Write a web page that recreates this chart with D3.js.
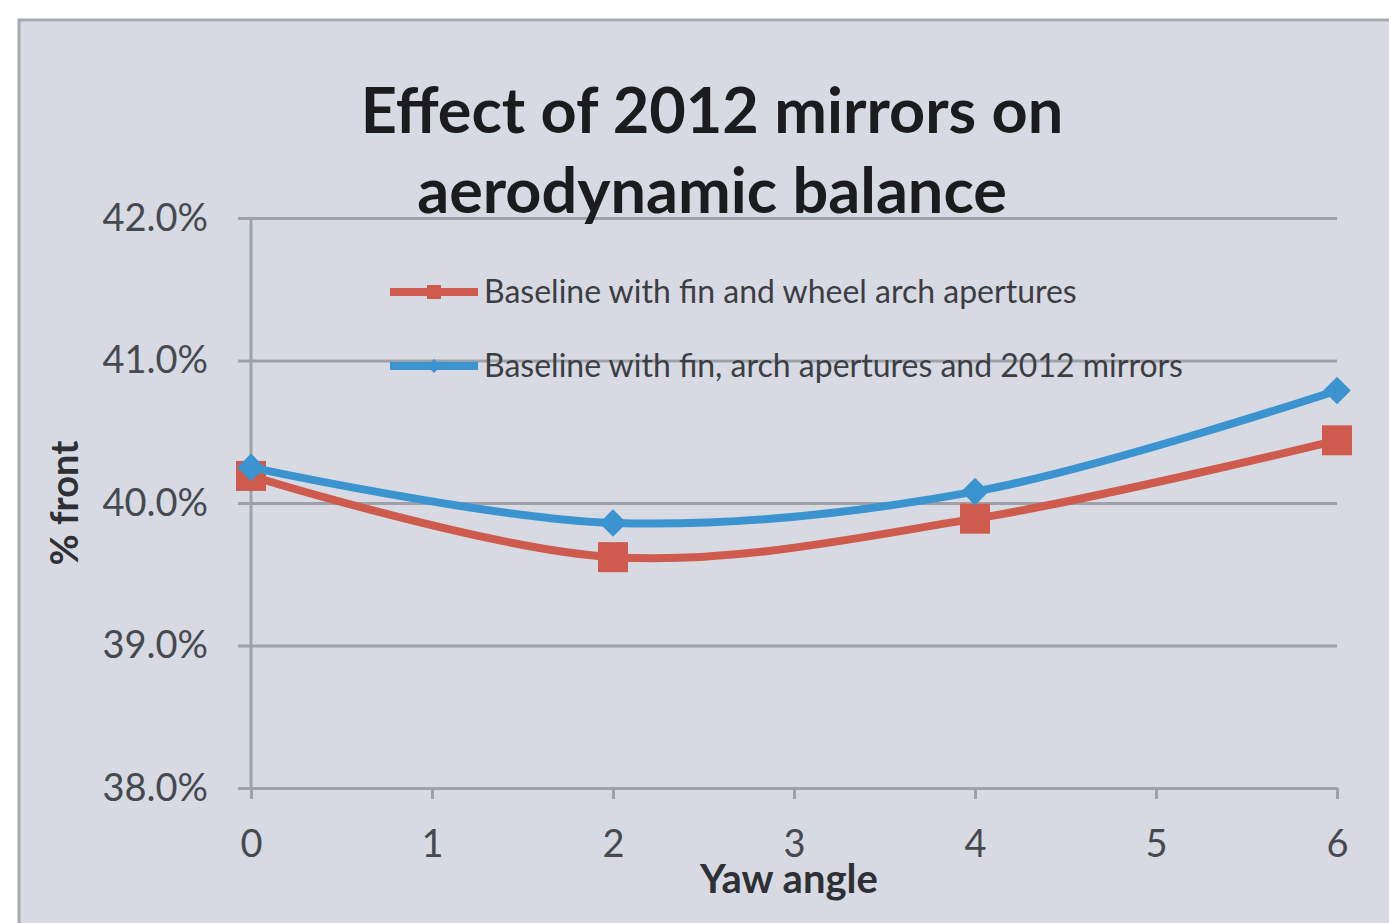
<!DOCTYPE html>
<html>
<head>
<meta charset="utf-8">
<script src="https://cdn.jsdelivr.net/npm/d3@7"></script>
<style>
  html, body { margin: 0; padding: 0; background: #ffffff; }
  svg { display: block; }
</style>
</head>
<body>
<svg id="chart" width="1389" height="923"></svg>
<script>
// Yaw angles measured, and % of downforce on the front axle for each configuration
const yawAngles = [0, 2, 4, 6];
const baselineFront = [40.19, 39.62, 39.89, 40.44];
const mirrorsFront = [40.25, 39.86, 40.08, 40.79];

const xTicks = [0, 1, 2, 3, 4, 5, 6];
const yTicks = [38, 39, 40, 41, 42];

const titleLines = ["Effect of 2012 mirrors on", "aerodynamic balance"];
const seriesNames = [
  "Baseline with fin and wheel arch apertures",
  "Baseline with fin, arch apertures and 2012 mirrors"
];

const W = 1389, H = 923;
const plot = { left: 251, right: 1337, top: 218, bottom: 788 };
const font = "Lato, 'Open Sans', sans-serif";

const svg = d3.select("#chart");

// chart area panel
svg.append("rect")
  .attr("x", 19).attr("y", 20)
  .attr("width", W + 20).attr("height", H + 20)
  .attr("fill", "#d7dae2")
  .attr("stroke", "#a7aaaf")
  .attr("stroke-width", 3);

const x = d3.scaleLinear().domain([0, 6]).range([plot.left, plot.right]);
const y = d3.scaleLinear().domain([38, 42]).range([plot.bottom, plot.top]);

// horizontal gridlines + y axis
const yAxis = d3.axisLeft(y)
  .tickValues(yTicks)
  .tickSize(-(plot.right - plot.left))
  .tickSizeOuter(0)
  .tickPadding(43)
  .tickFormat(d => d3.format(".1f")(d) + "%");

const gy = svg.append("g")
  .attr("transform", `translate(${plot.left},0)`)
  .call(yAxis);
gy.select(".domain").remove();
gy.selectAll(".tick line")
  .attr("x1", -13)
  .attr("stroke", "#9ea1a7")
  .attr("stroke-width", 3);
gy.selectAll(".tick text")
  .attr("font-family", font)
  .attr("font-size", 38)
  .attr("fill", "#464950");

// vertical axis line
svg.append("line")
  .attr("x1", plot.left).attr("x2", plot.left)
  .attr("y1", plot.top).attr("y2", plot.bottom)
  .attr("stroke", "#9ea1a7").attr("stroke-width", 3);

// x axis
const xAxis = d3.axisBottom(x)
  .tickValues(xTicks)
  .tickSize(11)
  .tickSizeOuter(0)
  .tickPadding(31)
  .tickFormat(d3.format("d"));

const gx = svg.append("g")
  .attr("transform", `translate(0,${plot.bottom})`)
  .call(xAxis);
gx.select(".domain").attr("stroke", "#9ea1a7").attr("stroke-width", 3);
gx.selectAll(".tick line").attr("stroke", "#9ea1a7").attr("stroke-width", 3);
gx.selectAll(".tick text")
  .attr("font-family", font)
  .attr("font-size", 38)
  .attr("fill", "#464950");

// title
svg.append("text")
  .attr("x", 712).attr("y", 133)
  .attr("text-anchor", "middle")
  .attr("font-family", font)
  .attr("font-weight", "bold")
  .attr("font-size", 63)
  .attr("fill", "#1c1c1e")
  .selectAll("tspan")
  .data(titleLines)
  .join("tspan")
  .attr("x", 712)
  .attr("dy", (d, i) => i === 0 ? 0 : 80)
  .text(d => d);

// axis titles
svg.append("text")
  .attr("x", 789).attr("y", 893)
  .attr("text-anchor", "middle")
  .attr("font-family", font)
  .attr("font-weight", "bold")
  .attr("font-size", 40)
  .attr("fill", "#2e3036")
  .text("Yaw angle");

svg.append("text")
  .attr("transform", "translate(78,503) rotate(-90)")
  .attr("text-anchor", "middle")
  .attr("font-family", font)
  .attr("font-weight", "bold")
  .attr("font-size", 38)
  .attr("fill", "#2e3036")
  .text("% front");

// series
const series = [
  { name: seriesNames[0], values: baselineFront, color: "#cf5a4e", marker: "square" },
  { name: seriesNames[1], values: mirrorsFront, color: "#3b93cf", marker: "diamond" }
];

const line = d3.line()
  .x(d => x(d[0]))
  .y(d => y(d[1]))
  .curve(d3.curveCatmullRom.alpha(0.5));

series.forEach(s => {
  const pts = yawAngles.map((a, i) => [a, s.values[i]]);
  svg.append("path")
    .datum(pts)
    .attr("d", line)
    .attr("fill", "none")
    .attr("stroke", s.color)
    .attr("stroke-width", 8)
    .attr("stroke-linejoin", "round");

  const sym = s.marker === "square"
    ? d3.symbol().type(d3.symbolSquare).size(30 * 30)
    : d3.symbol().type(d3.symbolDiamond2).size(22 * 22);

  svg.append("g")
    .selectAll("path")
    .data(pts)
    .join("path")
    .attr("transform", d => `translate(${x(d[0])},${y(d[1])})`)
    .attr("d", sym)
    .attr("fill", s.color);
});

// legend
const legend = svg.append("g");
series.forEach((s, i) => {
  const ly = 292 + i * 74;
  legend.append("line")
    .attr("x1", 390).attr("x2", 478)
    .attr("y1", ly).attr("y2", ly)
    .attr("stroke", s.color).attr("stroke-width", 8);
  const sym = s.marker === "square"
    ? d3.symbol().type(d3.symbolSquare).size(14 * 14)
    : d3.symbol().type(d3.symbolDiamond2).size(11 * 11);
  legend.append("path")
    .attr("transform", `translate(434,${ly})`)
    .attr("d", sym)
    .attr("fill", s.color);
  legend.append("text")
    .attr("x", 484).attr("y", ly + 11)
    .attr("font-family", font)
    .attr("font-size", 32)
    .attr("fill", "#3c3e44")
    .text(s.name);
});
</script>
</body>
</html>
